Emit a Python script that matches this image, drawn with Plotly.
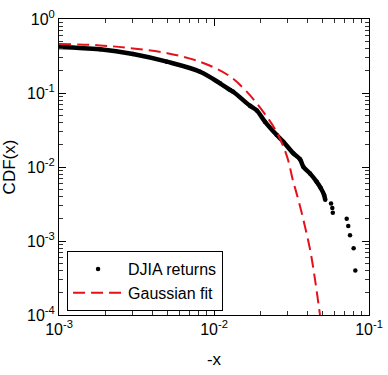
import plotly.graph_objects as go

djia_x = [0.001, 0.00184, 0.003, 0.00496, 0.00813, 0.01094, 0.0127, 0.0133,
          0.0171, 0.0189, 0.0213, 0.0254, 0.028, 0.0325, 0.0359, 0.0377,
          0.0416, 0.046, 0.0488, 0.0513, 0.0522]
djia_y = [0.42, 0.39, 0.336, 0.265, 0.194, 0.135, 0.11, 0.104,
          0.067, 0.058, 0.041, 0.027, 0.022, 0.0153, 0.0127, 0.0101,
          0.0082, 0.0063, 0.0052, 0.0042, 0.0036]

# isolated tail points
tail_x = [0.0569, 0.058, 0.0584, 0.0718, 0.0735, 0.0754, 0.0796, 0.0816]
tail_y = [0.0032, 0.0028, 0.0024, 0.0020, 0.0016, 0.0012, 0.0008, 0.0004]

# Gaussian fit curve
gauss_x = [0.001, 0.00184, 0.003, 0.005, 0.0081, 0.0123, 0.0162, 0.0219,
           0.0255, 0.0296, 0.0323, 0.0341, 0.0368, 0.0417, 0.0449, 0.0483]
gauss_y = [0.46, 0.44, 0.40, 0.345, 0.265, 0.175, 0.105, 0.048,
           0.029, 0.0138, 0.0066, 0.0044, 0.0024, 0.00076, 0.000296, 0.0001]

x_ticks = [0.001, 0.01, 0.1]
x_ticktext = ["10<sup>-3</sup>", "10<sup>-2</sup>", "10<sup>-1</sup>"]
y_ticks = [0.0001, 0.001, 0.01, 0.1, 1]
y_ticktext = ["10<sup>-4</sup>", "10<sup>-3</sup>", "10<sup>-2</sup>",
              "10<sup>-1</sup>", "10<sup>0</sup>"]

FONT = "Liberation Sans, Arial, sans-serif"

fig = go.Figure()

# dense body drawn as a thick dotted band
fig.add_trace(go.Scatter(
    x=djia_x, y=djia_y, mode="lines+markers",
    line=dict(color="black", width=4.5, shape="spline"),
    marker=dict(color="black", size=4.5),
    showlegend=False, hoverinfo="skip"))

fig.add_trace(go.Scatter(
    x=tail_x, y=tail_y, mode="markers",
    marker=dict(color="black", size=4.5),
    name="DJIA returns"))

fig.add_trace(go.Scatter(
    x=gauss_x, y=gauss_y, mode="lines",
    line=dict(color="#e4111b", width=2, dash="12px,6px", shape="spline"),
    name="Gaussian fit"))

axis_common = dict(
    type="log", showgrid=False, zeroline=False, automargin=False,
    showline=True, linecolor="black", linewidth=1, mirror="ticks",
    ticks="inside", ticklen=7, tickcolor="black", tickwidth=1,
    tickfont=dict(family=FONT, size=16, color="black"),
    minor=dict(ticks="inside", ticklen=4, tickcolor="#333", dtick="D1",
               showgrid=False),
)

fig.update_xaxes(**axis_common, range=[-3, -1], tickvals=x_ticks,
                 ticktext=x_ticktext,
                 title=dict(text="-x", font=dict(family=FONT, size=17,
                                                   color="black")))
fig.update_yaxes(**axis_common, range=[-4, 0], tickvals=y_ticks,
                 ticktext=y_ticktext,
                 title=dict(text="CDF(x)", font=dict(family=FONT, size=17,
                                                       color="black")))

fig.update_layout(
    width=388, height=375,
    margin=dict(l=59, r=19, t=19, b=60, autoexpand=False),
    paper_bgcolor="white", plot_bgcolor="white",
    font=dict(family=FONT, color="black"),
    legend=dict(x=0.026, y=0.216, xanchor="left", yanchor="top",
                bgcolor="white", bordercolor="black", borderwidth=1,
                font=dict(family=FONT, size=16, color="black"),
                itemwidth=50, tracegroupgap=0),
)

fig.write_html("out.html",
               config={"displayModeBar": False},
               post_script="document.body.style.margin='0';"
                           "document.body.style.overflow='hidden';")
